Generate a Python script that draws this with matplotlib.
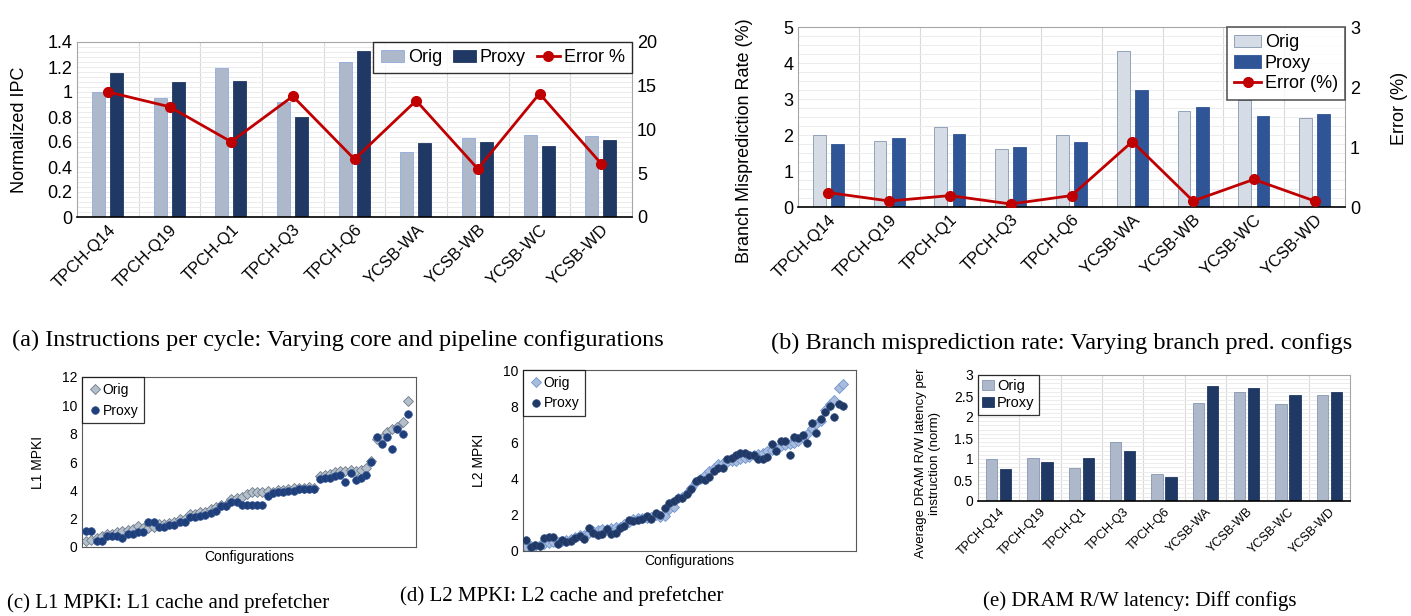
import matplotlib
matplotlib.use("Agg")
import matplotlib.pyplot as plt
import numpy as np

plt.rcParams['font.family'] = ['Liberation Sans', 'DejaVu Sans']

workloads = ["TPCH-Q14", "TPCH-Q19", "TPCH-Q1", "TPCH-Q3", "TPCH-Q6",
             "YCSB-WA", "YCSB-WB", "YCSB-WC", "YCSB-WD"]

# (a) IPC
ipc_orig = [1.00, 0.95, 1.19, 0.92, 1.24, 0.52, 0.63, 0.66, 0.65]
ipc_proxy = [1.15, 1.08, 1.09, 0.80, 1.33, 0.59, 0.60, 0.57, 0.62]
ipc_err = [14.3, 12.6, 8.6, 13.8, 6.6, 13.3, 5.5, 14.1, 6.1]

# (b) branch misprediction
br_orig = [2.00, 1.82, 2.22, 1.60, 2.00, 4.33, 2.68, 2.98, 2.48]
br_proxy = [1.76, 1.92, 2.03, 1.66, 1.81, 3.24, 2.78, 2.52, 2.58]
br_err = [0.24, 0.10, 0.19, 0.05, 0.19, 1.09, 0.10, 0.46, 0.10]

# (c) L1 MPKI
l1_orig = [0.45, 0.5, 0.65, 0.75, 0.9, 0.95, 1.05, 1.1, 1.2, 1.25,
           1.45, 1.35, 1.35, 1.4, 1.65, 1.6, 1.7, 1.75, 2.0, 2.0,
           2.3, 2.35, 2.45, 2.5, 2.65, 2.8, 3.0, 2.95, 3.4, 3.45,
           3.5, 3.75, 3.9, 3.9, 3.85, 3.95, 3.85, 4.0, 4.05, 4.1,
           4.15, 4.2, 4.2, 4.25, 4.2, 5.0, 5.05, 5.15, 5.3, 5.35,
           5.35, 5.45, 5.4, 5.45, 5.55, 6.1, 7.6, 7.7, 8.1, 8.3,
           8.5, 8.8, 10.3]
l1_proxy = [1.1, 1.1, 0.45, 0.45, 0.75, 0.75, 0.8, 0.65, 0.9, 0.9,
            1.05, 1.05, 1.8, 1.8, 1.4, 1.4, 1.55, 1.55, 1.75, 1.75,
            2.1, 2.1, 2.2, 2.25, 2.4, 2.55, 2.9, 2.9, 3.15, 3.15,
            3.0, 3.0, 3.0, 3.0, 3.0, 3.6, 3.8, 3.9, 3.9, 3.95,
            3.95, 4.1, 4.1, 4.1, 4.1, 4.8, 4.85, 4.85, 5.0, 5.05,
            4.6, 5.2, 4.7, 4.9, 5.1, 6.0, 7.8, 7.3, 7.8, 6.9,
            8.3, 8.0, 9.4]

# (d) L2 MPKI
l2_orig = [0.2, 0.25, 0.3, 0.35, 0.4, 0.45, 0.5, 0.5, 0.55, 0.6,
           0.65, 0.8, 0.9, 0.9, 1.0, 1.1, 1.15, 1.2, 1.2, 1.25,
           1.3, 1.35, 1.5, 1.6, 1.75, 1.8, 1.8, 1.85, 1.9, 2.0,
           1.9, 1.95, 2.3, 2.45, 2.95, 3.0, 3.2, 3.5, 3.8, 4.0,
           4.2, 4.4, 4.6, 4.8, 4.85, 4.9, 4.95, 5.0, 5.1, 5.15,
           5.2, 5.3, 5.35, 5.4, 5.5, 5.6, 5.7, 5.8, 5.85, 5.9,
           5.95, 6.1, 6.3, 6.45, 6.8, 7.0, 7.2, 7.8, 8.1, 8.35,
           9.0, 9.2]
l2_proxy = [0.6, 0.2, 0.35, 0.3, 0.7, 0.8, 0.8, 0.4, 0.6, 0.5,
            0.55, 0.7, 0.85, 0.65, 1.25, 1.0, 0.9, 0.95, 1.2, 0.95,
            1.0, 1.25, 1.4, 1.7, 1.65, 1.7, 1.75, 1.95, 1.75, 2.1,
            2.0, 2.4, 2.65, 2.75, 2.95, 2.95, 3.15, 3.45, 3.85, 4.0,
            3.9, 4.1, 4.4, 4.6, 4.6, 5.1, 5.15, 5.3, 5.4, 5.4,
            5.3, 5.3, 5.1, 5.1, 5.2, 5.9, 5.55, 6.05, 6.1, 5.3,
            6.3, 6.25, 6.4, 5.95, 7.05, 6.5, 7.3, 7.7, 8.0, 7.4,
            8.1, 8.0]

# (e) DRAM latency
dram_orig = [1.00, 1.02, 0.78, 1.40, 0.64, 2.34, 2.60, 2.32, 2.52]
dram_proxy = [0.77, 0.92, 1.02, 1.20, 0.57, 2.73, 2.70, 2.53, 2.60]

W, H = 1411, 616
fig = plt.figure(figsize=(W / 100, H / 100), dpi=100)


def px_axes(x0, y0, x1, y1):
    return fig.add_axes([x0 / W, 1 - y1 / H, (x1 - x0) / W, (y1 - y0) / H])


def excel_frame(ax, ymax, minor):
    n = len(workloads)
    for i in range(n - 1):
        ax.axvline(i + 0.5, color='#d9d9d9', lw=0.8, zorder=0)
    for v in np.arange(minor, ymax, minor):
        ax.axhline(v, color='#ececec', lw=0.7, zorder=0)
    for s in ['top', 'left', 'right']:
        ax.spines[s].set_color('#a6a6a6')
    ax.spines['bottom'].set_color('black')
    ax.spines['bottom'].set_linewidth(1.2)
    ax.tick_params(length=0)
    ax.set_xlim(-0.5, n - 0.5)


x = np.arange(len(workloads))
orig_a, proxy_a = '#adb9ca', '#203864'
red = '#c00000'

# ---- (a)
ax = px_axes(77, 42, 632, 217)
excel_frame(ax, 1.4, 0.04)
ax.bar(x - 0.15, ipc_orig, 0.21, color=orig_a, edgecolor='#8faadc', lw=0.6, label='Orig', zorder=2)
ax.bar(x + 0.14, ipc_proxy, 0.21, color=proxy_a, edgecolor=proxy_a, lw=0.6, label='Proxy', zorder=2)
ax.set_ylim(0, 1.4)
ax.set_yticks(np.arange(0, 1.41, 0.2))
ax.set_yticklabels(['0', '0.2', '0.4', '0.6', '0.8', '1', '1.2', '1.4'], fontsize=13)
ax.set_ylabel('Normalized IPC', fontsize=13, labelpad=14)
ax.set_xticks(x)
ax.set_xticklabels(workloads, rotation=45, ha='right', rotation_mode='anchor', fontsize=12)
ax2 = ax.twinx()
ax2.plot(x, ipc_err, color=red, lw=2, marker='o', ms=7, label='Error %', zorder=3)
ax2.set_ylim(0, 20)
ax2.set_yticks([0, 5, 10, 15, 20])
ax2.tick_params(length=0, labelsize=13)
for s in ax2.spines.values():
    s.set_visible(False)
h1, l1 = ax.get_legend_handles_labels()
h2, l2 = ax2.get_legend_handles_labels()
leg = ax2.legend(h1 + h2, l1 + l2, loc='upper right', ncol=3, fontsize=13,
                 frameon=True, fancybox=False, edgecolor='black', borderaxespad=0,
                 handlelength=1.3, handletextpad=0.2, columnspacing=0.6)
leg.get_frame().set_linewidth(1.0)

# ---- (b)
ax = px_axes(798, 27, 1345, 207)
excel_frame(ax, 5, 0.25)
ax.bar(x - 0.15, br_orig, 0.21, color='#d6dce5', edgecolor='#8497b0', lw=0.6, label='Orig', zorder=2)
ax.bar(x + 0.15, br_proxy, 0.21, color='#2f5597', edgecolor='#2f5597', lw=0.6, label='Proxy', zorder=2)
ax.set_ylim(0, 5)
ax.set_yticks(range(6))
ax.tick_params(labelsize=13)
ax.set_ylabel('Branch Misprediction Rate (%)', fontsize=13)
ax.yaxis.set_label_coords(-0.083, 0.37)
ax.set_xticks(x)
ax.set_xticklabels(workloads, rotation=45, ha='right', rotation_mode='anchor', fontsize=12)
ax2 = ax.twinx()
ax2.plot(x, br_err, color=red, lw=2, marker='o', ms=7, label='Error (%)', zorder=3)
ax2.set_ylim(0, 3)
ax2.set_yticks([0, 1, 2, 3])
ax2.tick_params(length=0, labelsize=13)
ax2.set_ylabel('Error (%)', fontsize=13, labelpad=18)
ax2.yaxis.set_label_coords(1.085, 0.55)
for s in ax2.spines.values():
    s.set_visible(False)
h1, l1 = ax.get_legend_handles_labels()
h2, l2 = ax2.get_legend_handles_labels()
leg = ax2.legend(h1 + h2, l1 + l2, loc='upper right', ncol=1, fontsize=13,
                 frameon=True, fancybox=False, edgecolor='#333333', borderaxespad=0,
                 handlelength=1.5, handletextpad=0.2, labelspacing=0.2)
leg.get_frame().set_linewidth(1.2)

# ---- (c)
ax = px_axes(82, 377, 416, 547)
xs = np.arange(len(l1_orig))
ax.plot(xs, l1_orig, linestyle='none', marker='D', ms=5.3, color='#b4bfcc',
        mec='#6f7b8b', mew=0.6, label='Orig', zorder=2)
ax.plot(xs, l1_proxy, linestyle='none', marker='o', ms=5.5, color='#1f3f7a',
        mec='#2e4f8f', mew=0.5, label='Proxy', zorder=3)
ax.set_xlim(-0.8, len(l1_orig) + 0.6)
ax.set_ylim(0, 12)
ax.set_yticks(range(0, 13, 2))
ax.set_xticks([])
ax.tick_params(length=0, labelsize=10)
ax.set_ylabel('L1 MPKI', fontsize=10, labelpad=12)
ax.set_xlabel('Configurations', fontsize=10, labelpad=2)
for s in ax.spines.values():
    s.set_color('#595959')
leg = ax.legend(loc='upper left', fontsize=10, frameon=True, fancybox=False,
                edgecolor='black', borderaxespad=0, handletextpad=0.1,
                handlelength=1.0, borderpad=0.4)
leg.get_frame().set_linewidth(0.9)

# ---- (d)
ax = px_axes(523, 370, 856, 551)
xs = np.arange(len(l2_orig))
ax.plot(xs, l2_orig, linestyle='none', marker='D', ms=5, color='#a9bcdc',
        mec='#6f94d0', mew=0.6, label='Orig', zorder=2)
ax.plot(xs, l2_proxy, linestyle='none', marker='o', ms=5.5, color='#1f3864',
        mec='#2e4a7d', mew=0.5, label='Proxy', zorder=3)
ax.set_xlim(-0.75, len(l2_orig) + 1.9)
ax.set_ylim(0, 10)
ax.set_yticks(range(0, 11, 2))
ax.set_xticks([])
ax.tick_params(length=0, labelsize=10)
ax.set_ylabel('L2 MPKI', fontsize=10, labelpad=12)
ax.set_xlabel('Configurations', fontsize=10, labelpad=2)
for s in ax.spines.values():
    s.set_color('#595959')
leg = ax.legend(loc='upper left', fontsize=10, frameon=True, fancybox=False,
                edgecolor='black', borderaxespad=0, handletextpad=0.1,
                handlelength=1.0, borderpad=0.4)
leg.get_frame().set_linewidth(0.9)

# ---- (e)
ax = px_axes(978, 375, 1350, 501)
excel_frame(ax, 3, 0.1)
ax.bar(x - 0.17, dram_orig, 0.27, color=orig_a, edgecolor='#8497b0', lw=0.6, label='Orig', zorder=2)
ax.bar(x + 0.17, dram_proxy, 0.27, color=proxy_a, edgecolor=proxy_a, lw=0.6, label='Proxy', zorder=2)
ax.set_ylim(0, 3)
ax.set_yticks(np.arange(0, 3.01, 0.5))
ax.set_yticklabels(['0', '0.5', '1', '1.5', '2', '2.5', '3'], fontsize=10)
ax.set_ylabel('Average DRAM R/W latency per\ninstruction (norm)', fontsize=9.5)
ax.yaxis.set_label_coords(-0.1, 0.3)
ax.set_xticks(x)
ax.set_xticklabels(workloads, rotation=45, ha='right', rotation_mode='anchor', fontsize=9)
leg = ax.legend(loc='upper left', fontsize=10.5, frameon=True, fancybox=False,
                edgecolor='black', borderaxespad=0, handletextpad=0.2,
                handlelength=0.8, labelspacing=0.2, borderpad=0.3)
leg.get_frame().set_linewidth(0.9)

# ---- captions
cap = dict(family='Liberation Serif', ha='center', va='center')
fig.text(338 / W, 1 - 340 / H, '(a) Instructions per cycle: Varying core and pipeline configurations',
         fontsize=17.5, **cap)
fig.text(1062 / W, 1 - 343 / H, '(b) Branch misprediction rate: Varying branch pred. configs',
         fontsize=17.5, **cap)
fig.text(168 / W, 1 - 603 / H, '(c) L1 MPKI: L1 cache and prefetcher', fontsize=15, **cap)
fig.text(562 / W, 1 - 596 / H, '(d) L2 MPKI: L2 cache and prefetcher', fontsize=15, **cap)
fig.text(1140 / W, 1 - 601 / H, '(e) DRAM R/W latency: Diff configs', fontsize=15, **cap)

fig.savefig('out.png', dpi=100)
